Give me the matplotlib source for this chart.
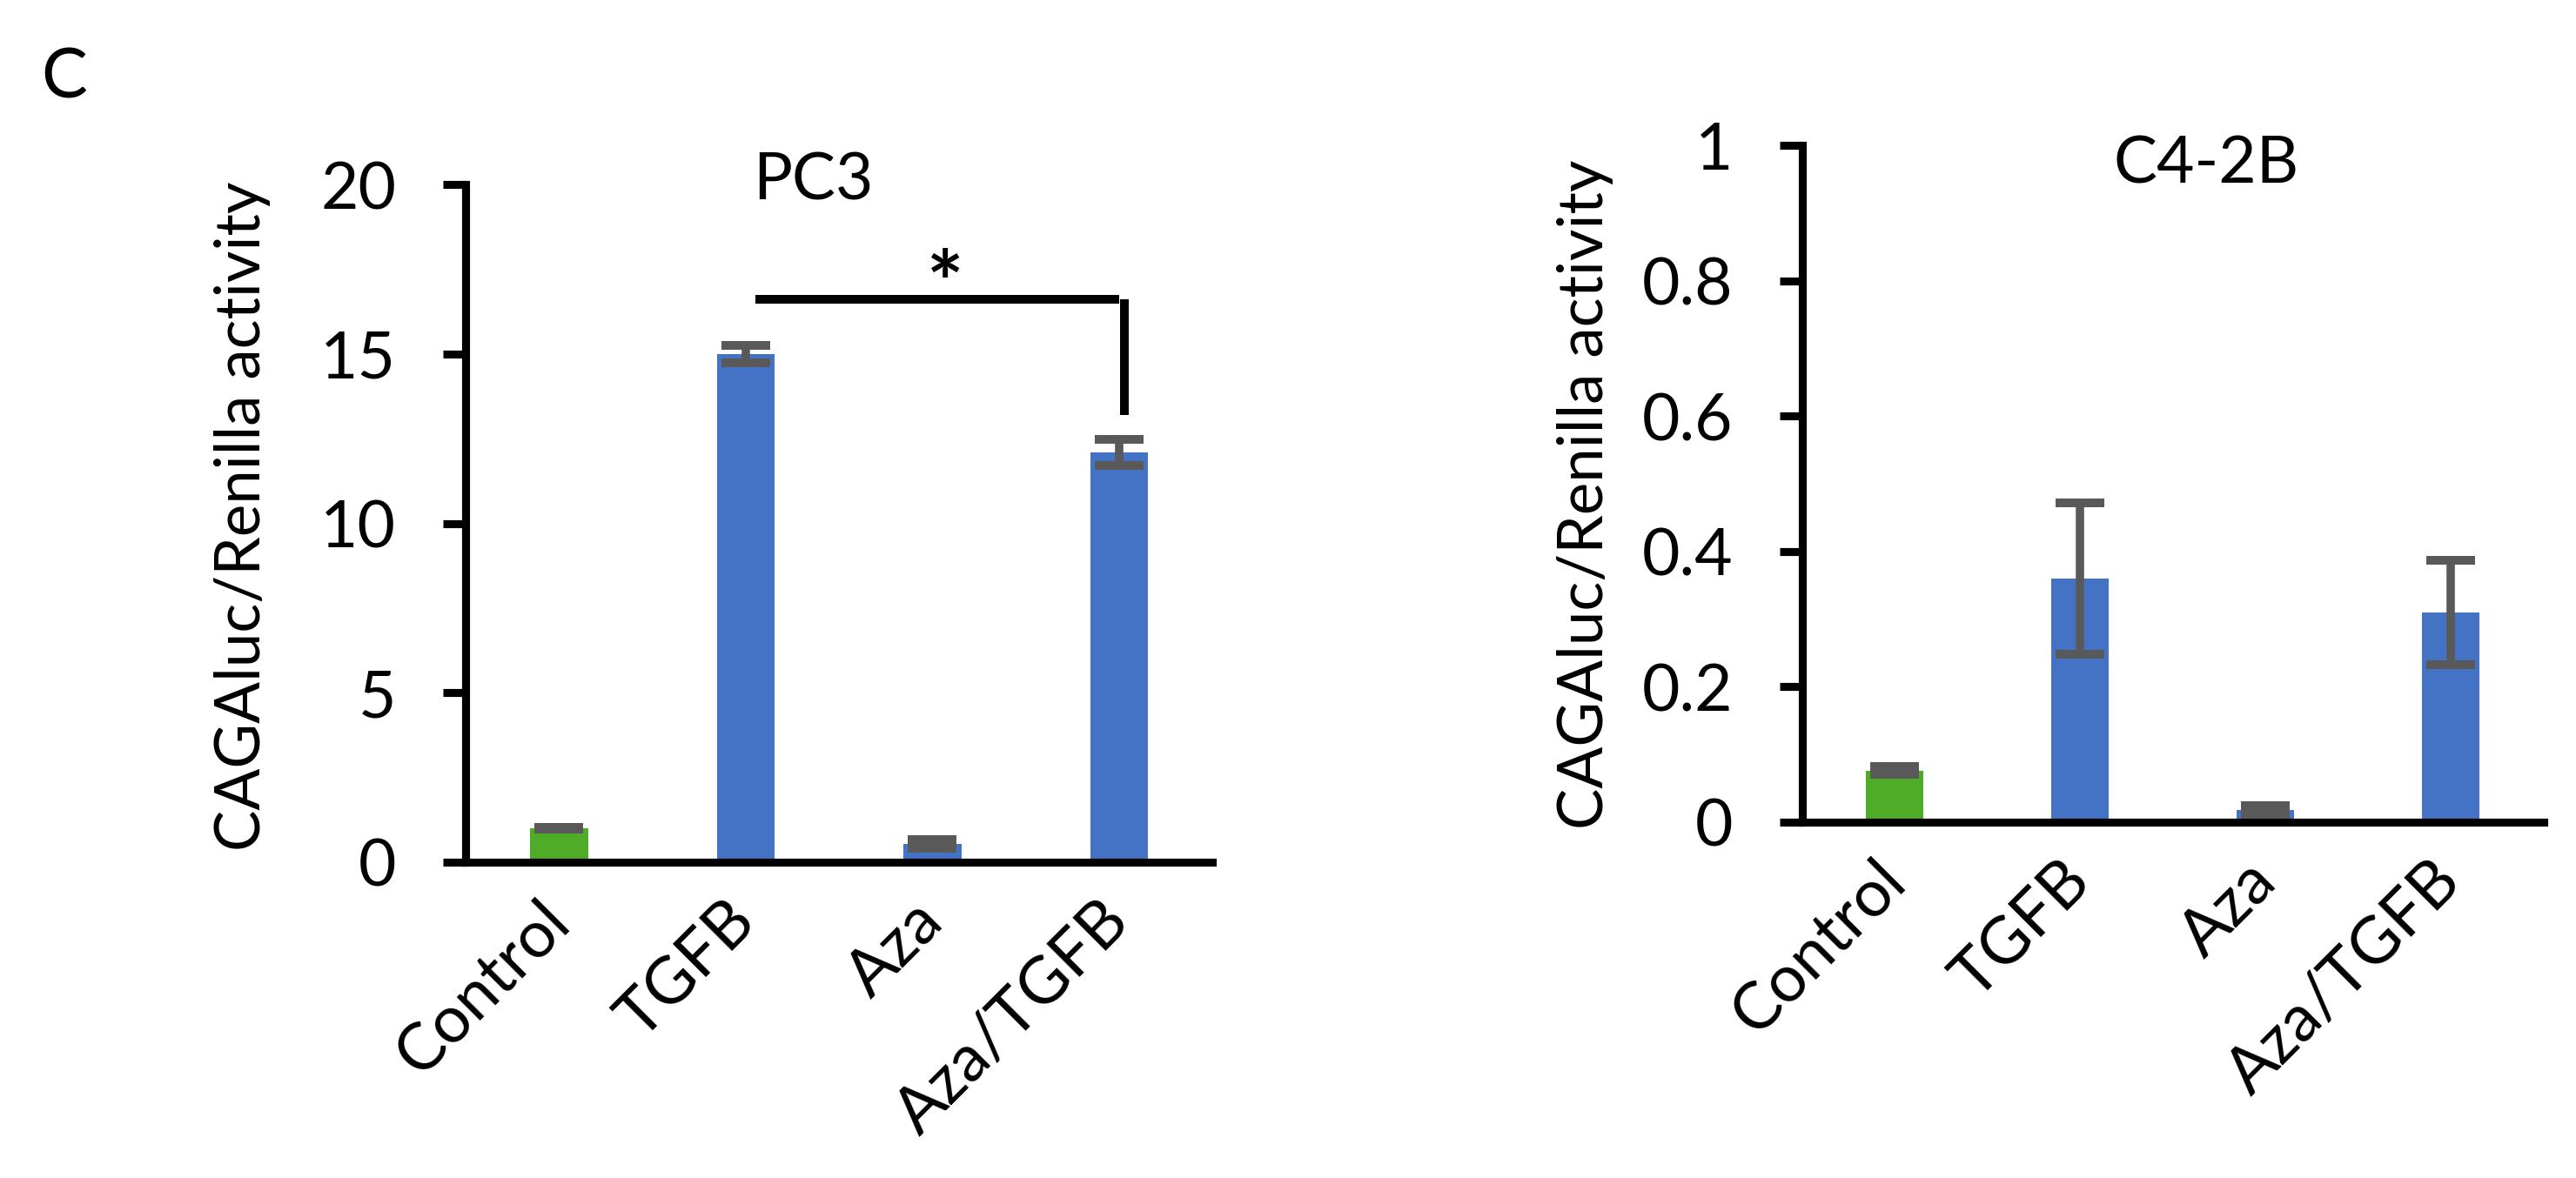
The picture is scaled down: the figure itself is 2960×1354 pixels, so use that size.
import matplotlib.pyplot as plt

plt.rcParams['font.family'] = ['Lato', 'DejaVu Sans']

# data
categories = ["Control", "TGFB", "Aza", "Aza/TGFB"]
bar_colors = ["#4EAC28", "#4472C4", "#4472C4", "#4472C4"]

pc3_means = [1.0, 15.0, 0.54, 12.1]
pc3_errs = [0.03, 0.25, 0.12, 0.38]

c42b_means = [0.076, 0.36, 0.018, 0.31]
c42b_errs = [0.006, 0.112, 0.006, 0.077]

pc3_yticks = [0, 5, 10, 15, 20]
c42b_yticks = [0, 0.2, 0.4, 0.6, 0.8, 1]
c42b_yticklabels = ["0", "0.2", "0.4", "0.6", "0.8", "1"]

ylabel = "CAGAluc/Renilla activity"

fig = plt.figure(figsize=(2961 / 300, 1354 / 300), dpi=300)
ax1 = fig.add_axes([0.1807, 0.2681, 0.2898, 0.5753])
ax2 = fig.add_axes([0.6994, 0.3021, 0.2877, 0.5746])

lw = 2.2
fs = 18


def draw_panel(ax, means, errs, yticks, yticklabels, ymax):
    x = list(range(len(categories)))
    ax.bar(x, means, width=0.31, color=bar_colors, zorder=2)
    ax.errorbar(x, means, yerr=errs, fmt="none", ecolor="#595959",
                elinewidth=2.3, capsize=6.7, capthick=2.4, zorder=3)
    ax.set_xlim(-0.5, 3.5)
    ax.set_ylim(0, ymax)
    ax.set_yticks(yticks)
    ax.set_yticklabels(yticklabels)
    ax.set_xticks(x)
    ax.set_xticklabels(categories, rotation=45, ha="right", va="center",
                       rotation_mode="anchor")
    for s in ["top", "right"]:
        ax.spines[s].set_visible(False)
    for s in ["left", "bottom"]:
        ax.spines[s].set_linewidth(lw)
        ax.spines[s].set_capstyle("projecting")
    ax.tick_params(axis="y", length=6.2, width=lw, pad=13, labelsize=fs)
    ax.tick_params(axis="x", length=0, pad=13.5, labelsize=fs)


draw_panel(ax1, pc3_means, pc3_errs, pc3_yticks,
           [str(v) for v in pc3_yticks], 20)
draw_panel(ax2, c42b_means, c42b_errs, c42b_yticks, c42b_yticklabels, 1)

ax1.text(1.36, 20.1, "PC3", fontsize=fs, ha="center", va="center")
ax2.text(1.68, 0.972, "C4-2B", fontsize=fs, ha="center", va="center")

# significance bracket
ax1.plot([1.05, 3.0], [16.6, 16.6], color="black", lw=2.4,
         solid_capstyle="butt", clip_on=False)
ax1.plot([3.03, 3.03], [16.6, 13.2], color="black", lw=2.4,
         solid_capstyle="butt", clip_on=False)
ax1.text(2.07, 16.9, "*", fontsize=24, fontweight="bold",
         ha="center", va="center")

fig.text(0.0942, 0.562, ylabel, rotation=90, fontsize=17,
         ha="center", va="center")
fig.text(0.6153, 0.58, ylabel, rotation=90, fontsize=17,
         ha="center", va="center")
fig.text(0.025, 0.933, "C", fontsize=19, ha="center", va="center")

fig.savefig("out.png", dpi=300, facecolor="white")
